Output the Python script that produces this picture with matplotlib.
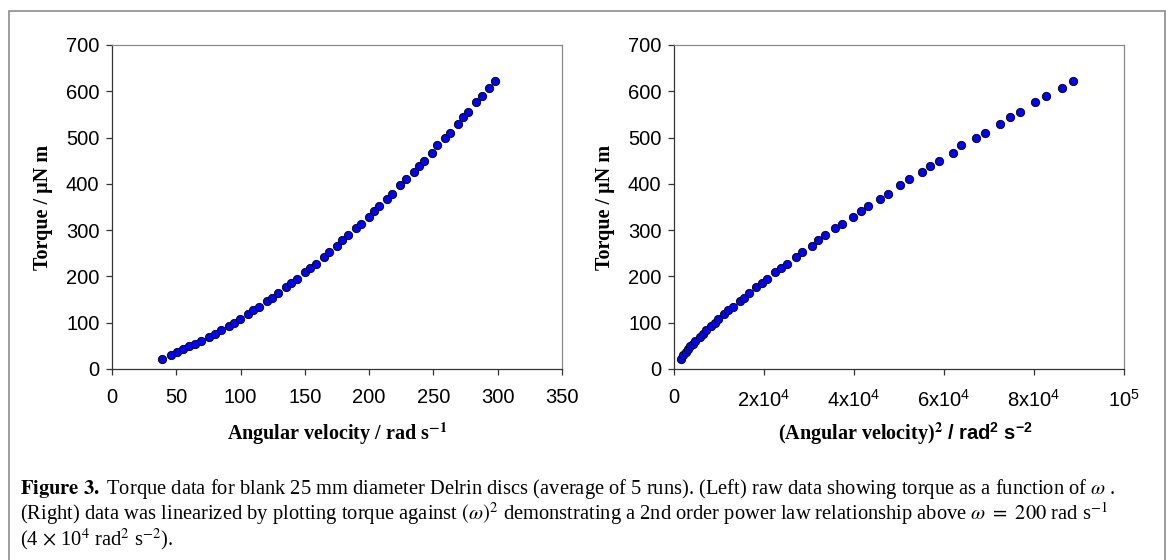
import numpy as np
import matplotlib
matplotlib.use("Agg")
import matplotlib.pyplot as plt
from matplotlib.patches import Rectangle

# angular velocity (rad/s) and torque (uN m)
omega = [38.9, 45.7, 50.6, 55.5, 59.9, 64.3, 69.0, 75.5, 79.9, 84.6,
         90.8, 95.0, 99.4, 105.9, 109.8, 114.2, 120.7, 124.8, 129.2, 135.4,
         139.6, 143.7, 150.0, 154.1, 158.3, 164.8, 168.7, 174.9, 179.0, 183.2,
         189.4, 193.3, 199.5, 203.7, 207.8, 214.1, 218.0, 224.2, 228.3, 234.6,
         238.5, 242.6, 248.8, 252.7, 258.9, 262.8, 269.1, 273.2, 277.1, 283.3,
         287.5, 293.5, 297.6]
torque = [22.3, 29.5, 36.7, 42.4, 48.9, 54.0, 60.4, 69.8, 76.3, 83.5,
          92.8, 100.0, 107.2, 119.4, 126.6, 134.5, 146.0, 154.0, 163.3, 176.3,
          184.9, 193.5, 208.6, 218.0, 225.9, 242.4, 252.5, 264.7, 277.7, 289.2,
          303.6, 313.7, 328.8, 340.3, 352.5, 366.9, 378.4, 397.1, 410.8, 425.9,
          438.1, 450.4, 466.9, 483.5, 498.6, 510.8, 528.8, 543.9, 555.4, 577.7,
          589.9, 607.9, 622.3]

left_xticks = [0, 50, 100, 150, 200, 250, 300, 350]
right_xticks = [0, 2e4, 4e4, 6e4, 8e4, 1e5]
right_xticklabels = ["0", "2x10$^4$", "4x10$^4$", "6x10$^4$", "8x10$^4$", "10$^5$"]
yticks = [0, 100, 200, 300, 400, 500, 600, 700]

plt.rcParams["font.family"] = "Liberation Sans"
plt.rcParams["mathtext.fontset"] = "custom"
plt.rcParams["mathtext.rm"] = "Liberation Sans"
plt.rcParams["mathtext.it"] = "Liberation Sans:italic"
plt.rcParams["mathtext.bf"] = "Liberation Sans:bold"

W, H = 1171, 560
fig = plt.figure(figsize=(W / 100, H / 100), dpi=100)

# outer frame
fig.patches.append(Rectangle((9 / W, -0.05), (1165 - 9) / W, 1.05 - 11 / H,
                             transform=fig.transFigure, fill=False,
                             edgecolor="#8c8c8c", linewidth=1.2))

ax1 = fig.add_axes([112 / W, 1 - 369 / H, 450 / W, 324 / H])
ax2 = fig.add_axes([674 / W, 1 - 369 / H, 450 / W, 324 / H])

w2 = np.array(omega) ** 2

for ax, x in [(ax1, omega), (ax2, w2)]:
    ax.plot(x, torque, "o", color="#0000ff", markeredgecolor="black",
            markeredgewidth=0.6, markersize=6.0, linestyle="none")
    ax.set_ylim(0, 700)
    ax.set_yticks(yticks)
    ax.spines["left"].set_color("#333333")
    ax.spines["bottom"].set_color("#333333")
    ax.spines["top"].set_color("#8a8a8a")
    ax.spines["right"].set_color("#8a8a8a")
    for s in ax.spines.values():
        s.set_linewidth(0.9)
    ax.tick_params(direction="out", length=4, width=0.9, color="#333333",
                   labelsize=14.5, pad=5)
    ax.tick_params(axis="x", pad=10)
    ax.set_ylabel("Torque / \u03bcN m", family="Liberation Serif",
                  fontweight="bold", fontsize=14.5, labelpad=9)

label_y = -0.219

ax1.set_xlim(0, 350)
ax1.set_xticks(left_xticks)
ax1.text(0.5, label_y, "Angular velocity / rad s$^{\\bf{-1}}$",
         transform=ax1.transAxes, ha="center", va="baseline",
         family="Liberation Serif", fontweight="bold", fontsize=14.5,
         math_fontfamily="stix")

ax2.set_xlim(0, 1e5)
ax2.set_xticks(right_xticks)
ax2.set_xticklabels(right_xticklabels)
ax2.text(0.597, label_y, "(Angular velocity)$^{\\bf{2}}$",
         transform=ax2.transAxes, ha="right", va="baseline",
         family="Liberation Serif", fontweight="bold", fontsize=14.5,
         math_fontfamily="stix")
ax2.text(0.607, label_y, "/ rad$^{\\bf{2}}$ s$^{\\bf{-2}}$",
         transform=ax2.transAxes, ha="left", va="baseline",
         family="Liberation Sans", fontweight="bold", fontsize=14.5)

caption = ("$\\bf{Figure\\ 3.}$ Torque data for blank 25 mm diameter Delrin discs "
           "(average of 5 runs). (Left) raw data showing torque as a function of $\\omega$ .\n"
           "(Right) data was linearized by plotting torque against $(\\omega)^2$ "
           "demonstrating a 2nd order power law relationship above $\\omega\\ =\\ 200$ rad s$^{-1}$\n"
           "(4 $\\times$ 10$^4$ rad$^2$ s$^{-2}$).")
fig.text(20 / W, 1 - 477 / H, caption, family="Liberation Serif", fontsize=14.8,
         va="top", ha="left", linespacing=0.97, math_fontfamily="stix")

fig.savefig("out.png", dpi=100)
